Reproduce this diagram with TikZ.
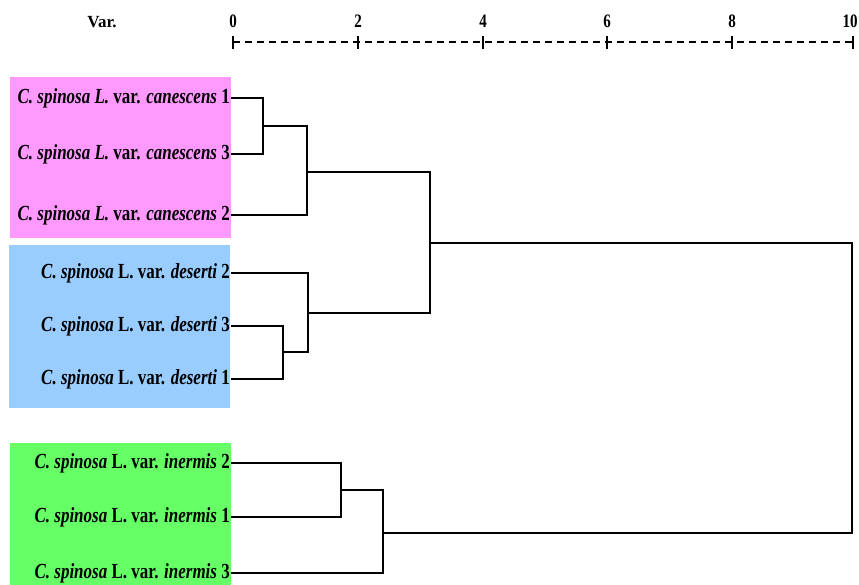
\documentclass[tikz,border=0pt]{standalone}
\usepackage{fontspec}
\setmainfont{Liberation Serif}
\newfontfamily\condserif[FakeStretch=0.79]{Liberation Serif}
\begin{document}
\begin{tikzpicture}[x=1pt,y=-1pt,
  leaf/.style={anchor=east,inner sep=1pt,font=\condserif\fontsize{21.5}{24}\selectfont\bfseries},
  num/.style={inner sep=0pt,font=\fontsize{17}{19}\selectfont\bfseries},
  digit/.style={inner sep=0pt,font=\condserif\fontsize{19}{21}\selectfont\bfseries},
  branch/.style={line width=1.7pt,black},
  axisline/.style={line width=1.8pt,dash pattern=on 7pt off 5pt},
  tick/.style={line width=1.8pt}]
\useasboundingbox (0,0) rectangle (859,585);
\definecolor{pinkbox}{RGB}{255,153,255}
\definecolor{bluebox}{RGB}{153,204,255}
\definecolor{greenbox}{RGB}{102,255,102}
% group backgrounds
\fill[pinkbox] (10,77) rectangle (231,238);
\fill[bluebox] (9,245) rectangle (230,408);
\fill[greenbox] (10,443) rectangle (231,585);
% axis
\node[num] (var) at (102,22) {Var.};
\foreach \v/\x in {0/233,2/358,4/483,6/607,8/732} {
  \node[digit] (t\v) at (\x,21) {\v};
  \draw[tick] (\x,36) -- (\x,49);
}
\node[digit] (t10) at (850,21) {10};
\draw[tick] (853,36) -- (853,49);
\coordinate (ax0) at (233,42);
\coordinate (ax10) at (853,42);
\draw[axisline] (ax0) -- (ax10);
% leaves
\node[leaf] (c1) at (231,98) {\textit{C. spinosa L.} var. \textit{canescens} 1};
\node[leaf] (c3) at (231,154) {\textit{C. spinosa L.} var. \textit{canescens} 3};
\node[leaf] (c2) at (231,215) {\textit{C. spinosa L.} var. \textit{canescens} 2};
\node[leaf] (d2) at (231,273) {\textit{C. spinosa} L. var. \textit{deserti} 2};
\node[leaf] (d3) at (231,326) {\textit{C. spinosa} L. var. \textit{deserti} 3};
\node[leaf] (d1) at (231,379) {\textit{C. spinosa} L. var. \textit{deserti} 1};
\node[leaf] (i2) at (231,463) {\textit{C. spinosa} L. var. \textit{inermis} 2};
\node[leaf] (i1) at (231,517) {\textit{C. spinosa} L. var. \textit{inermis} 1};
\node[leaf] (i3) at (231,573) {\textit{C. spinosa} L. var. \textit{inermis} 3};
% merge points
\coordinate (m1) at (263,126);
\coordinate (m2) at (307,172);
\coordinate (m3) at (283,352);
\coordinate (m4) at (308,313);
\coordinate (m5) at (430,243);
\coordinate (m6) at (341,490);
\coordinate (m7) at (383,533);
\coordinate (root) at (852,388);
% branches
\draw[branch] (c1.east) -| (m1) |- (c3.east);
\draw[branch] (m1) -| (m2) |- (c2.east);
\draw[branch] (d3.east) -| (m3) |- (d1.east);
\draw[branch] (d2.east) -| (m4) |- (m3);
\draw[branch] (m2) -| (m5) |- (m4);
\draw[branch] (i2.east) -| (m6) |- (i1.east);
\draw[branch] (m6) -| (m7) |- (i3.east);
\draw[branch] (m5) -| (root) |- (m7);
\end{tikzpicture}
\end{document}
